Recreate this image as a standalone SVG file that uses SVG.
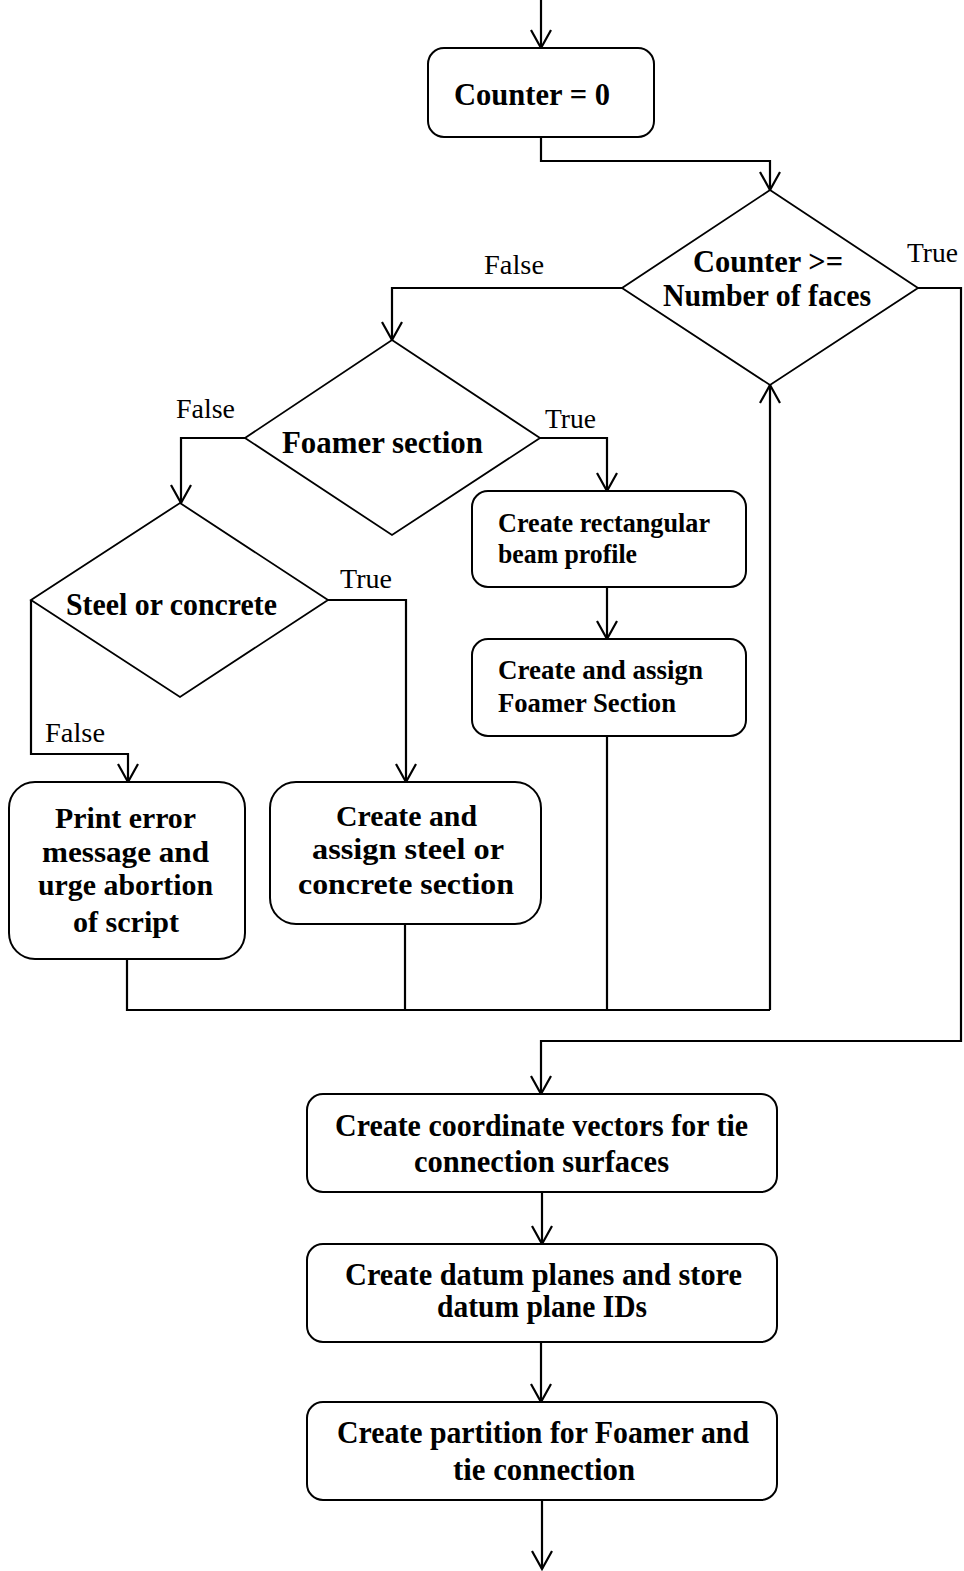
<svg xmlns="http://www.w3.org/2000/svg" width="964" height="1571" viewBox="0 0 964 1571">
  <style>
    .box { fill: #fff; stroke: #000; stroke-width: 2; }
    .dia { fill: #fff; stroke: #000; stroke-width: 1.8; stroke-linejoin: miter; }
    .wire { fill: none; stroke: #000; stroke-width: 2.2; }
    .b { font-family: "Liberation Serif", "Times New Roman", serif; font-weight: bold; fill: #000; }
    .lbl { font-family: "Liberation Serif", "Times New Roman", serif; font-size: 28px; fill: #000; }
    .f31 { font-size: 31px; }
    .f30 { font-size: 30px; }
    .f28 { font-size: 28px; }
  </style>
  <defs>
    <marker id="arrow" markerUnits="userSpaceOnUse" markerWidth="24" markerHeight="26" refX="20" refY="12" orient="auto">
      <path d="M2,2 L20,12 L2,22" fill="none" stroke="#000" stroke-width="2.2"/>
    </marker>
  </defs>

  <rect width="964" height="1571" fill="#fff"/>

  <!-- connectors -->
  <g id="connectors" class="wire">
    <path d="M541,0 V48" marker-end="url(#arrow)"/>
    <path d="M541,137 V161 H770 V190" marker-end="url(#arrow)"/>
    <path d="M622,288 H392 V340" marker-end="url(#arrow)"/>
    <path d="M918,288 H961 V1041 H541 V1094" marker-end="url(#arrow)"/>
    <path d="M245,438 H181 V503" marker-end="url(#arrow)"/>
    <path d="M540,438 H607 V491" marker-end="url(#arrow)"/>
    <path d="M607,587 V639" marker-end="url(#arrow)"/>
    <path d="M31,600 V754 H128 V782" marker-end="url(#arrow)"/>
    <path d="M328,600 H406 V782" marker-end="url(#arrow)"/>
    <path d="M127,959 V1010 H770"/>
    <path d="M405,924 V1010"/>
    <path d="M607,736 V1010"/>
    <path d="M770,1010 V385" marker-end="url(#arrow)"/>
    <path d="M542,1192 V1244" marker-end="url(#arrow)"/>
    <path d="M541,1342 V1402" marker-end="url(#arrow)"/>
    <path d="M542,1500 V1569" marker-end="url(#arrow)"/>
  </g>

  <!-- branch labels -->
  <g id="labels">
    <text class="lbl" x="484" y="274" textLength="60" lengthAdjust="spacingAndGlyphs">False</text>
    <text class="lbl" x="907" y="262" textLength="51" lengthAdjust="spacingAndGlyphs">True</text>
    <text class="lbl" x="176" y="418" textLength="59" lengthAdjust="spacingAndGlyphs">False</text>
    <text class="lbl" x="545" y="428" textLength="51" lengthAdjust="spacingAndGlyphs">True</text>
    <text class="lbl" x="340" y="588" textLength="52" lengthAdjust="spacingAndGlyphs">True</text>
    <text class="lbl" x="45" y="742" textLength="60" lengthAdjust="spacingAndGlyphs">False</text>
  </g>

  <g id="init">
    <rect class="box" x="428" y="48" width="226" height="89" rx="16"/>
    <text class="b f31" x="454" y="105" textLength="156" lengthAdjust="spacingAndGlyphs">Counter = 0</text>
  </g>

  <g id="loop-check">
    <polygon class="dia" points="770,190 918,288 770,385 622,288"/>
    <text class="b f31" x="693" y="272" textLength="150" lengthAdjust="spacingAndGlyphs">Counter &gt;=</text>
    <text class="b f31" x="663" y="306" textLength="208" lengthAdjust="spacingAndGlyphs">Number of faces</text>
  </g>

  <g id="foamer-check">
    <polygon class="dia" points="392,340 540,438 392,535 245,438"/>
    <text class="b f31" x="282" y="453" textLength="201" lengthAdjust="spacingAndGlyphs">Foamer section</text>
  </g>

  <g id="material-check">
    <polygon class="dia" points="180,503 328,600 180,697 31,600"/>
    <text class="b f31" x="66" y="615" textLength="211" lengthAdjust="spacingAndGlyphs">Steel or concrete</text>
  </g>

  <g id="beam-profile">
    <rect class="box" x="472" y="491" width="274" height="96" rx="16"/>
    <text class="b f28" x="498" y="532" textLength="212" lengthAdjust="spacingAndGlyphs">Create rectangular</text>
    <text class="b f28" x="498" y="563" textLength="139" lengthAdjust="spacingAndGlyphs">beam profile</text>
  </g>

  <g id="foamer-section">
    <rect class="box" x="472" y="639" width="274" height="97" rx="16"/>
    <text class="b f28" x="498" y="679" textLength="205" lengthAdjust="spacingAndGlyphs">Create and assign</text>
    <text class="b f28" x="498" y="712" textLength="178" lengthAdjust="spacingAndGlyphs">Foamer Section</text>
  </g>

  <g id="error-msg">
    <rect class="box" x="9" y="782" width="236" height="177" rx="26"/>
    <text class="b f30" x="55" y="828" textLength="141" lengthAdjust="spacingAndGlyphs">Print error</text>
    <text class="b f30" x="42" y="862" textLength="167" lengthAdjust="spacingAndGlyphs">message and</text>
    <text class="b f30" x="38" y="895" textLength="175" lengthAdjust="spacingAndGlyphs">urge abortion</text>
    <text class="b f30" x="73" y="932" textLength="106" lengthAdjust="spacingAndGlyphs">of script</text>
  </g>

  <g id="steel-concrete-section">
    <rect class="box" x="270" y="782" width="271" height="142" rx="26"/>
    <text class="b f30" x="336" y="826" textLength="141" lengthAdjust="spacingAndGlyphs">Create and</text>
    <text class="b f30" x="312" y="859" textLength="192" lengthAdjust="spacingAndGlyphs">assign steel or</text>
    <text class="b f30" x="298" y="894" textLength="216" lengthAdjust="spacingAndGlyphs">concrete section</text>
  </g>

  <g id="coord-vectors">
    <rect class="box" x="307" y="1094" width="470" height="98" rx="16"/>
    <text class="b f31" x="335" y="1136" textLength="413" lengthAdjust="spacingAndGlyphs">Create coordinate vectors for tie</text>
    <text class="b f31" x="414" y="1172" textLength="255" lengthAdjust="spacingAndGlyphs">connection surfaces</text>
  </g>

  <g id="datum-planes">
    <rect class="box" x="307" y="1244" width="470" height="98" rx="16"/>
    <text class="b f31" x="345" y="1285" textLength="397" lengthAdjust="spacingAndGlyphs">Create datum planes and store</text>
    <text class="b f31" x="437" y="1317" textLength="210" lengthAdjust="spacingAndGlyphs">datum plane IDs</text>
  </g>

  <g id="partition">
    <rect class="box" x="307" y="1402" width="470" height="98" rx="16"/>
    <text class="b f31" x="337" y="1443" textLength="412" lengthAdjust="spacingAndGlyphs">Create partition for Foamer and</text>
    <text class="b f31" x="453" y="1480" textLength="182" lengthAdjust="spacingAndGlyphs">tie connection</text>
  </g>
</svg>
